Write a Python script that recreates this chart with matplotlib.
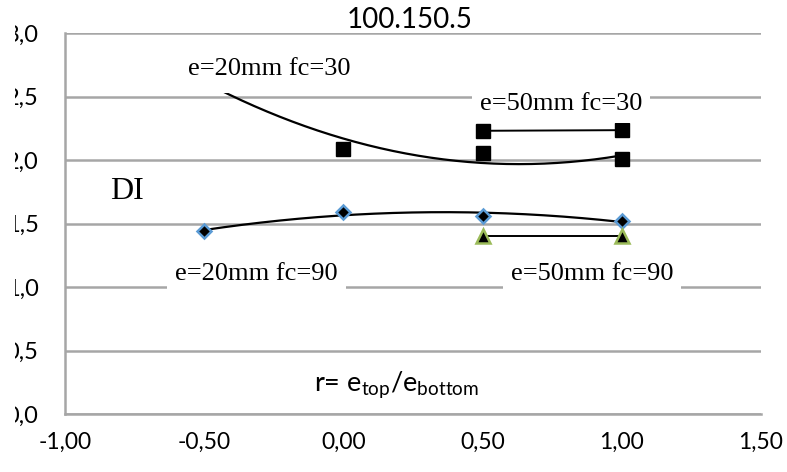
import numpy as np
import matplotlib
matplotlib.use('Agg')
import matplotlib.pyplot as plt
from matplotlib.transforms import Bbox

# r = e_top / e_bottom on the x axis, DI on the y axis
r_20 = [-0.5, 0.0, 0.5, 1.0]
r_50 = [0.5, 1.0]

di_20_fc30 = [2.64, 2.09, 2.055, 2.01]
di_50_fc30 = [2.23, 2.235]
di_20_fc90 = [1.44, 1.59, 1.56, 1.52]
di_50_fc90 = [1.40, 1.40]

x_ticks = [-1.0, -0.5, 0.0, 0.5, 1.0, 1.5]
y_ticks = [0.0, 0.5, 1.0, 1.5, 2.0, 2.5, 3.0]

sans = ['Lato', 'DejaVu Sans']
serif = ['Liberation Serif', 'DejaVu Serif']
grid_col = '#a6a6a6'

fig = plt.figure(figsize=(7.87, 4.72), dpi=100)
ax = fig.add_axes([65/787, 1 - 414/472, (761 - 65)/787, (414 - 33)/472])

# excel style polynomial (order 2) trendlines for the e=20mm series
xs = np.linspace(min(r_20), max(r_20), 200)
for ys in (di_20_fc30, di_20_fc90):
    coef = np.polyfit(r_20, ys, 2)
    ax.plot(xs, np.polyval(coef, xs), color='black', lw=1.6, zorder=2)

ax.plot(r_20, di_20_fc30, ls='none', marker='s', ms=10.5, color='black', zorder=3)
ax.plot(r_50, di_50_fc30, color='black', lw=1.4, marker='s', ms=10.5, zorder=3)
ax.plot(r_20, di_20_fc90, ls='none', marker='D', ms=7.5, mfc='black',
        mec='#5b9bd5', mew=1.8, zorder=3)
ax.plot(r_50, di_50_fc90, color='black', lw=1.4, marker='^', ms=10, mfc='black',
        mec='#9bbb59', mew=1.8, zorder=3)

ax.set_xlim(-1.0, 1.5)
ax.set_ylim(0.0, 3.0)
ax.set_xticks(x_ticks)
ax.set_yticks(y_ticks)
ax.set_xticklabels([('%.2f' % v).replace('.', ',') for v in x_ticks], family=sans, fontsize=16.5)
ax.set_yticklabels([('%.1f' % v).replace('.', ',') for v in y_ticks], family=sans, fontsize=17)
ax.tick_params(axis='both', length=0)
ax.tick_params(axis='x', pad=13)
ax.tick_params(axis='y', pad=19)

ax.set_axisbelow(True)
ax.grid(axis='y', color=grid_col, lw=1.8)
ax.spines['top'].set_visible(False)
ax.spines['right'].set_visible(False)
for s in ('left', 'bottom'):
    ax.spines[s].set_color(grid_col)
    ax.spines[s].set_linewidth(1.8)

# the y labels are cut at the left side in the original picture
for lbl in ax.get_yticklabels():
    lbl.set_clip_box(Bbox.from_extents(15, 0, 787, 472))
    lbl.set_clip_on(True)

box = dict(boxstyle='square,pad=0.3', fc='white', ec='none')
# this label box hides the start of the trendline and the r=-0.5 point
ax.text(-0.265, 2.72, 'e=20mm fc=30', family=serif, fontsize=19, ha='center', va='center',
        bbox=dict(boxstyle='square,pad=0.5', fc='white', ec='none'), zorder=5)
ax.text(0.782, 2.44, 'e=50mm fc=30', family=serif, fontsize=19, ha='center', va='center', bbox=box, zorder=5)
ax.text(-0.312, 1.10, 'e=20mm fc=90', family=serif, fontsize=19, ha='center', va='center', bbox=box, zorder=5)
ax.text(0.893, 1.10, 'e=50mm fc=90', family=serif, fontsize=19, ha='center', va='center', bbox=box, zorder=5)
ax.text(-0.777, 1.75, 'DI', family=serif, fontsize=23, ha='center', va='center', zorder=5)

plt.rcParams['mathtext.default'] = 'regular'
ax.text(0.19, 0.23, r'r= e$_{top}$/e$_{bottom}$', family=sans, fontsize=19.5, ha='center', va='center', zorder=5)

fig.text(410/787, 1 - 20/472, '100.150.5', family=sans, fontsize=20, ha='center', va='center')

fig.savefig('out.png', dpi=100)
